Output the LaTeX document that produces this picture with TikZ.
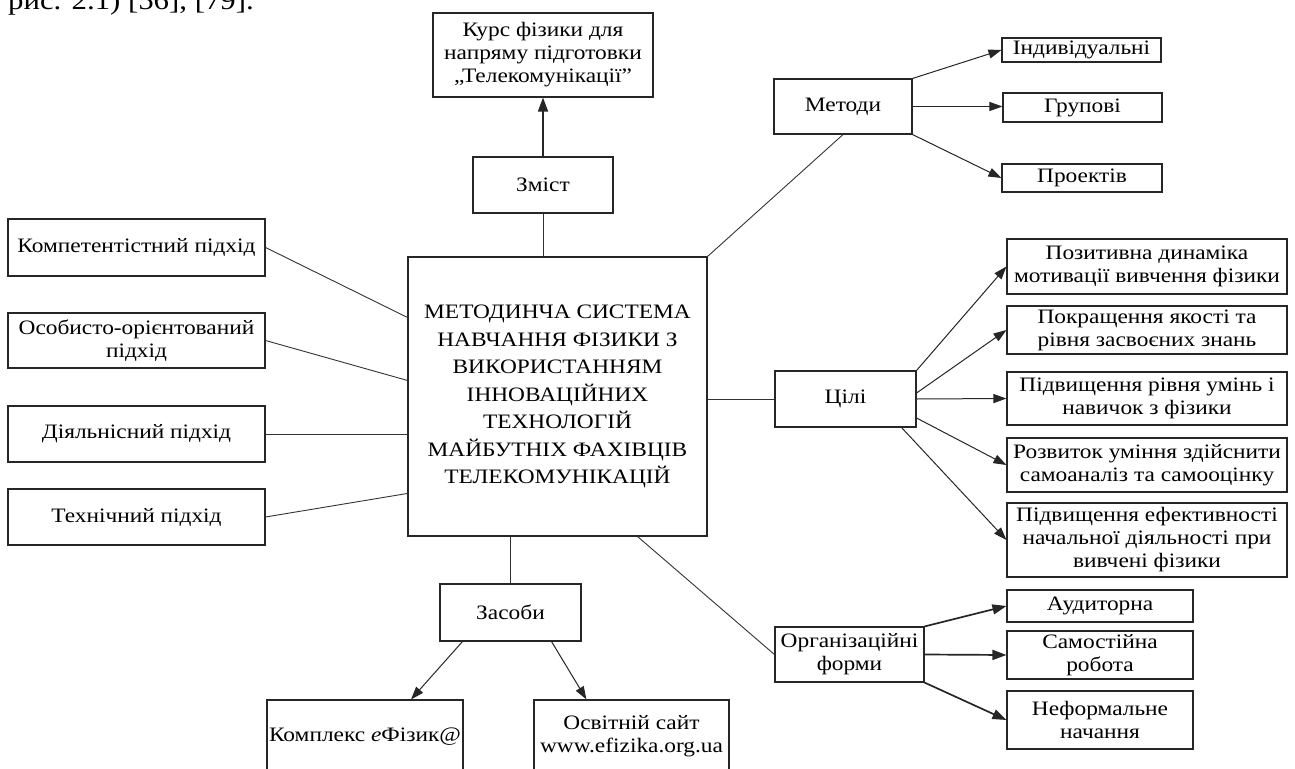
\documentclass[tikz,border=0pt]{standalone}
\usepackage{fontspec}
\setmainfont[FakeStretch=1.14]{Liberation Serif}
\usetikzlibrary{arrows.meta}
\tikzset{
  box/.style={draw=black!85, line width=1.1pt, inner sep=0pt, align=center,
    font=\fontsize{20.5}{23}\selectfont},
  conn/.style={draw=black!80, line width=0.9pt},
  arr/.style={draw=black!85, line width=1pt, -{Triangle[length=13pt,width=9pt]}},
  tharr/.style={draw=black!85, line width=1.7pt, -{Triangle[length=14pt,width=10pt]}},
}
\newcommand\bx[6]{\node[box,minimum width={#4-#2},minimum height={#5-#3}] (#1) at ({(#2+#4)/2},{(#3+#5)/2}) {#6};}
\begin{document}
\begin{tikzpicture}[x=1pt,y=-1pt]
\useasboundingbox (0,0) rectangle (1295,768);
\clip (0,0) rectangle (1295,768);
\fill[white] (0,0) rectangle (1295,768);
\node[anchor=base west, inner sep=0pt, font=\fontsize{27}{29}\selectfont] (cap) at (8,9.5) {рис. 2.1) [56], [79].};
% boxes
\bx{kurs}{433}{13}{653}{97}{Курс фізики для\\напряму підготовки\\„Телекомунікації”}
\bx{zmist}{473}{157}{613}{213}{Зміст}
\bx{met}{774}{79}{912}{134}{Методи}
\bx{ind}{1002}{38}{1161}{62}{Індивідуальні}
\bx{grp}{1003}{93}{1162}{122}{Групові}
\bx{pro}{1002}{164}{1162}{192}{Проектів}
\bx{comp}{8}{219}{265}{276}{Компетентістний підхід}
\bx{osob}{8}{313}{265}{368}{Особисто-орієнтований\\підхід}
\bx{diyal}{8}{406}{265}{462}{Діяльнісний підхід}
\bx{tekh}{8}{489}{265}{545}{Технічний підхід}
\node[box,minimum width=299,minimum height=279,font=\fontsize{20.5}{27.5}\selectfont] (cen) at (557.5,396.5)
  {МЕТОДИНЧА СИСТЕМА\\НАВЧАННЯ ФІЗИКИ З\\ВИКОРИСТАННЯМ\\ІННОВАЦІЙНИХ\\ТЕХНОЛОГІЙ\\МАЙБУТНІХ ФАХІВЦІВ\\ТЕЛЕКОМУНІКАЦІЙ};
\bx{cil}{775}{371}{916}{427}{Цілі}
\bx{poz}{1007}{239}{1287}{294}{Позитивна динаміка\\мотивації вивчення фізики}
\bx{pok}{1007}{306}{1287}{354}{Покращення якості та\\рівня засвоєних знань}
\bx{pidv}{1007}{372}{1287}{425}{Підвищення рівня умінь і\\навичок з фізики}
\bx{roz}{1007}{438}{1287}{492}{Розвиток уміння здійснити\\самоаналіз та самооцінку}
\bx{ef}{1007}{503}{1287}{577}{Підвищення ефективності\\начальної діяльності при\\вивчені фізики}
\bx{org}{775}{627}{924}{682}{Організаційні\\форми}
\bx{aud}{1007}{590}{1193}{622}{Аудиторна}
\bx{sam}{1007}{631}{1193}{679}{Самостійна\\робота}
\bx{nef}{1007}{691}{1193}{749}{Неформальне\\начання}
\bx{zas}{440}{584}{581}{641}{Засоби}
\bx{kompl}{267}{700}{463}{774}{Комплекс \textit{e}Фізик@}
\bx{osv}{534}{700}{729}{772}{Освітній сайт\\www.efizika.org.ua}
% connectors
\draw[tharr] (zmist.north) -- (kurs.south);
\draw[conn] (zmist.south) -- (zmist.south |- cen.north);
\draw[conn] (met.south) -- (cen.north east);
\draw[arr] (met.north east) -- (ind.west);
\draw[arr] (met.east) -- (met.east -| grp.west);
\draw[arr] (met.south east) -- (pro.west);
\draw[conn] (comp.east) -- ([yshift=-61pt]cen.north west);
\draw[conn] (osob.east) -- ([yshift=-124pt]cen.north west);
\draw[conn] (diyal.east) -- (diyal.east -| cen.west);
\draw[conn] (tekh.east) -- ([yshift=-237pt]cen.north west);
\draw[conn] (cil.west -| cen.east) -- (cil.west);
\draw[arr] (cil.north east) -- (poz.west);
\draw[arr] ([yshift=6pt]cil.east) -- (pok.west);
\draw[arr] (cil.east) -- (pidv.west);
\draw[arr] ([yshift=-19pt]cil.east) -- (roz.west);
\draw[arr] ([xshift=-15pt]cil.south east) -- (ef.west);
\draw[conn] ([xshift=-70pt]cen.south east) -- (org.west);
\draw[tharr] (org.north east) -- (aud.west);
\draw[tharr] (org.east) -- (sam.west);
\draw[tharr] (org.south east) -- (nef.west);
\draw[conn] (zas.north |- cen.south) -- (zas.north);
\draw[arr] ([xshift=23pt]zas.south west) -- ([xshift=46pt]kompl.north);
\draw[arr] ([xshift=-30pt]zas.south east) -- ([xshift=53pt]osv.north west);
\end{tikzpicture}
\end{document}
